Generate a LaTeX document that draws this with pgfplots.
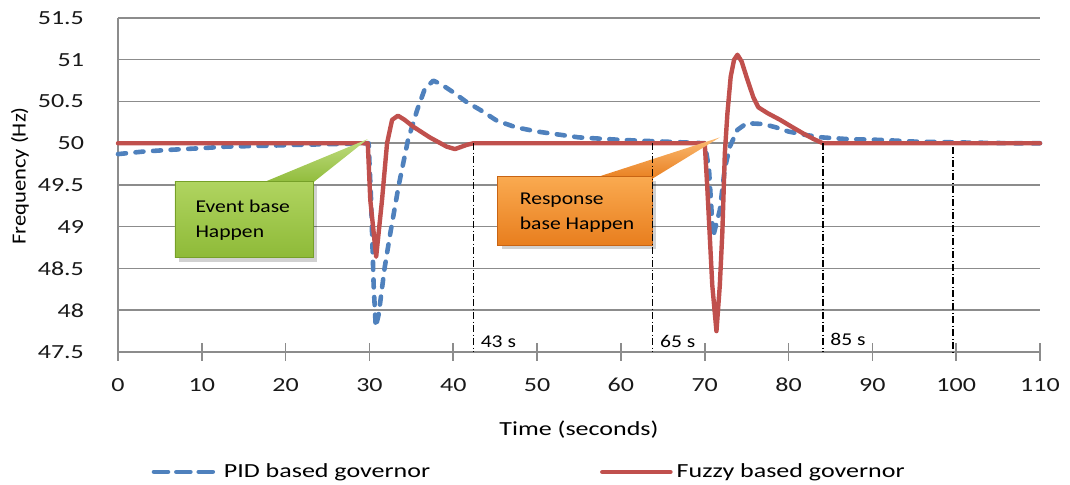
\documentclass[border=0pt]{standalone}
\usepackage{fontspec}
\setmainfont{Carlito}[FakeStretch=1.3]
\newfontfamily\ylabfont{Carlito}[FakeStretch=1.13]
\newfontfamily\calfont{Carlito}[FakeStretch=1.2]
\usepackage{pgfplots}
\pgfplotsset{compat=1.18}

\definecolor{pidblue}{RGB}{79,129,189}
\definecolor{fuzzred}{RGB}{192,80,77}
\definecolor{gridgray}{RGB}{140,140,140}
\definecolor{greentop}{RGB}{176,212,96}
\definecolor{greenbot}{RGB}{142,186,56}
\definecolor{greenedge}{RGB}{118,160,40}
\definecolor{orangetop}{RGB}{250,170,80}
\definecolor{orangebot}{RGB}{232,126,30}
\definecolor{orangeedge}{RGB}{200,100,20}

\begin{document}
\begin{tikzpicture}
\begin{axis}[
  scale only axis, width=461pt, height=167pt,
  xmin=0, xmax=110, ymin=47.5, ymax=51.5,
  xtick={0,10,...,110}, ytick={47.5,48,...,51.5},
  axis x line=bottom, axis y line=left,
  axis line style={-, draw=gridgray, line width=0.8pt},
  ymajorgrids, major grid style={draw=gridgray, line width=0.75pt},
  tick align=center, major tick length=9pt,
  xtick style={draw=gridgray, line width=0.8pt},
  ytick style={draw=none},
  tick label style={font=\fontsize{10}{12}\selectfont, text=black!90},
  /pgf/number format/assume math mode=true,
  xticklabel style={yshift=-5pt},
  yticklabel style={xshift=-9pt},
  xlabel={Time (seconds)},
  xlabel style={at={(axis description cs:0.5,-0.2335)}, anchor=center, font=\fontsize{10}{12}\selectfont},
  ylabel={\ylabfont Frequency (Hz)},
  ylabel style={at={(axis description cs:-0.1063,0.527)}, anchor=center, font=\fontsize{10}{12}\selectfont},
  clip=false,
  legend columns=2,
  legend style={at={(axis description cs:0.447,-0.359)}, anchor=center, draw=none,
    font=\fontsize{10}{12}\selectfont, /tikz/every even column/.append style={column sep=83pt}},
  legend cell align=left,
]

\addplot[pidblue, line width=2.3pt, line cap=round, line join=round, dash pattern=on 4pt off 4.8pt,
  legend image code/.code={\draw[pidblue, line width=2.3pt, line cap=round, dash pattern=on 7pt off 4.2pt] (1.2pt,0pt) -- (33pt,0pt);}]
coordinates {
(0,49.87) (3,49.90) (6,49.92) (9.8,49.94) (13,49.96) (17.8,49.97) (21,49.98) (25.7,49.99) (29.9,50.0)
(30.2,49.3) (30.5,48.3) (30.75,47.8) (31.1,47.95) (31.8,48.5) (32.5,48.93) (33.5,49.5)
(34.6,50.04) (35.7,50.4) (36.6,50.65) (37.6,50.75) (38.5,50.71) (40,50.61) (41.5,50.5)
(43.2,50.4) (45.2,50.27) (47.5,50.19) (50,50.14) (55,50.07) (60,50.04) (65,50.02) (70,50.0)
(70.5,49.7) (71.0,48.88) (71.8,49.2) (72.4,49.7) (73.0,49.96) (73.9,50.16) (75,50.24)
(77,50.23) (78.5,50.19) (80,50.14) (82,50.10) (84,50.07) (87,50.05) (91,50.04) (95,50.02)
(100,50.01) (106.8,50.0) (110,50.0)
};
\addlegendentry{PID based governor}

\addplot[fuzzred, line width=2.2pt, line join=round, line cap=round,
  legend image code/.code={\draw[fuzzred, line width=2.3pt, line cap=round] (1pt,0pt) -- (35pt,0pt);}]
coordinates {
(0,50.0) (29.8,50.0) (30.1,49.32) (30.8,48.64) (31.5,49.32) (32.1,50.0) (32.7,50.28)
(33.4,50.33) (34.2,50.28) (35.2,50.2) (37.2,50.07) (39.2,49.96) (40.2,49.93) (41.6,49.98)
(42.4,50.0) (70.0,50.0) (70.3,49.48) (70.9,48.3) (71.4,47.75) (71.8,48.3) (72.1,48.93)
(72.4,49.88) (72.7,50.35) (73.1,50.8) (73.5,51.0) (73.9,51.06) (74.4,50.98) (75.0,50.79)
(75.8,50.55) (76.4,50.43) (77.5,50.36) (79.0,50.28) (80.5,50.19) (81.7,50.12) (83,50.05)
(84.1,50.0) (86,50.0) (110,50.0)
};
\addlegendentry{Fuzzy based governor}

% callout: event
\shade[top color=greentop!80!white, bottom color=greenbot]
  (axis cs:16.6,49.50) -- (axis cs:29.8,50.05) -- (axis cs:22.9,49.50) -- cycle;
\fill[black, opacity=0.18] ([xshift=2pt,yshift=-2pt]axis cs:6.8,49.54) rectangle ([xshift=2pt,yshift=-2pt]axis cs:23.3,48.63);
\shade[top color=greentop, bottom color=greenbot, draw=greenedge, line width=0.4pt]
  (axis cs:6.8,49.54) rectangle (axis cs:23.3,48.63);
\node[anchor=west, align=left, inner sep=0pt, font=\calfont\fontsize{9}{12.5}\selectfont]
  at (axis cs:9.2,49.075) {Event base\\Happen};

% callout: response
\shade[top color=orangetop!80!white, bottom color=orangebot]
  (axis cs:56.1,49.56) -- (axis cs:71.8,50.07) -- (axis cs:63.5,49.56) -- cycle;
\fill[black, opacity=0.18] ([xshift=2pt,yshift=-2pt]axis cs:45.3,49.60) rectangle ([xshift=2pt,yshift=-2pt]axis cs:63.7,48.78);
\shade[top color=orangetop, bottom color=orangebot, draw=orangeedge, line width=0.4pt]
  (axis cs:45.3,49.60) rectangle (axis cs:63.7,48.78);
\node[anchor=west, align=left, inner sep=0pt, font=\calfont\fontsize{9}{12.5}\selectfont]
  at (axis cs:47.9,49.17) {Response\\base Happen};

% marker lines
\addplot[forget plot, black, line width=0.7pt, dash pattern=on 3.5pt off 1.2pt on 0.6pt off 1.2pt]
  coordinates {(42.4,50.0) (42.4,47.5)};
\addplot[forget plot, black, line width=0.7pt, dash pattern=on 3.5pt off 1.2pt on 0.6pt off 1.2pt]
  coordinates {(63.8,50.0) (63.8,47.5)};
\addplot[forget plot, black, line width=0.7pt, dash pattern=on 3.5pt off 1.2pt on 0.6pt off 1.2pt]
  coordinates {(84.1,50.0) (84.1,47.5)};
\addplot[forget plot, black, line width=0.7pt, dash pattern=on 3.5pt off 1.2pt on 0.6pt off 1.2pt]
  coordinates {(99.6,49.95) (99.6,47.5)};

\node[anchor=west, inner sep=0pt, xshift=3.5pt, font=\calfont\fontsize{9}{11}\selectfont] at (axis cs:42.4,47.62) {43 s};
\node[anchor=west, inner sep=0pt, xshift=3.5pt, font=\calfont\fontsize{9}{11}\selectfont] at (axis cs:63.8,47.62) {65 s};
\node[anchor=west, inner sep=0pt, xshift=3.5pt, font=\calfont\fontsize{9}{11}\selectfont] at (axis cs:84.1,47.65) {85 s};
\end{axis}
\pgfresetboundingbox
\path (-59pt,-66.5pt) rectangle (476pt,176pt);
\end{tikzpicture}
\end{document}
